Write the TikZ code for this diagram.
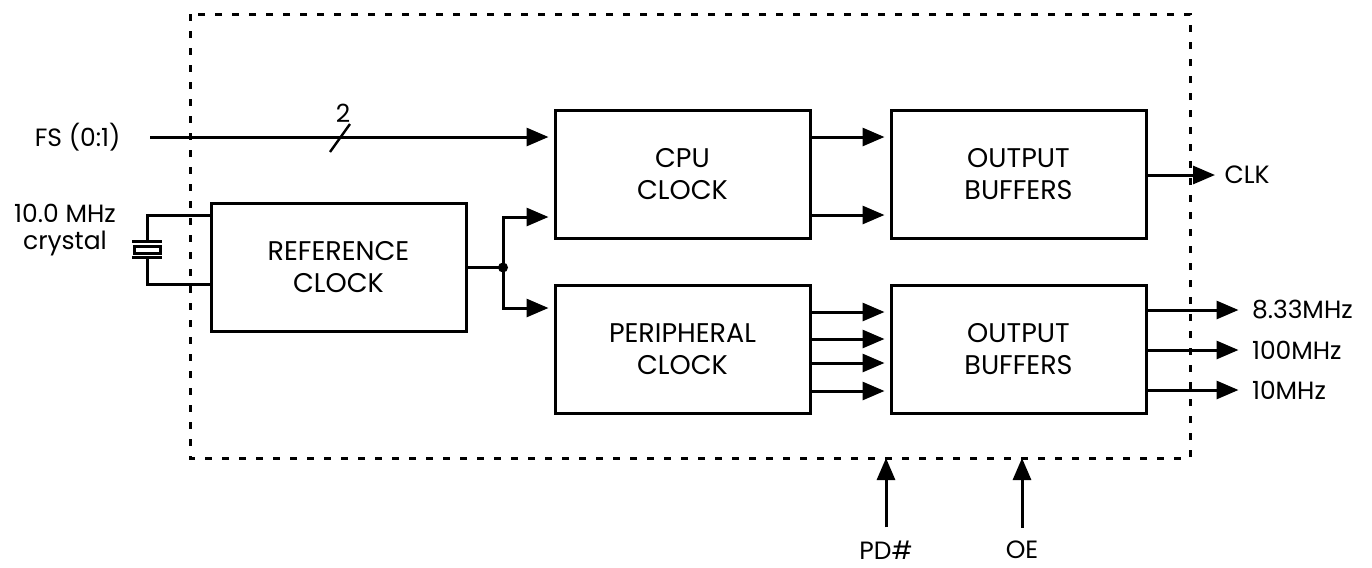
\documentclass[tikz,border=0pt]{standalone}
\usepackage{fontspec}
\setmainfont{Poppins}
\usetikzlibrary{arrows.meta,positioning,calc}

\begin{document}
\begin{tikzpicture}[x=0.5pt,y=-0.5pt,line width=1.5pt,
    blk/.style={rectangle, draw, minimum width=127.5pt, minimum height=64pt,
      align=center, font=\fontsize{13.5}{16}\selectfont},
    sig/.style={-{Triangle[length=11pt,width=9pt]}, shorten >=2.5pt},
    lbl/.style={inner sep=0pt, font=\fontsize{12.5}{15}\selectfont},
    frame/.style={dash pattern=on 3.5pt off 5pt}]
  \useasboundingbox (0,0) rectangle (1372,568);

  % chip outline
  \draw[frame] (190,14) rectangle (1190,458);
  \coordinate (fb) at (190,458);

  % blocks
  \node [blk] (cpu) at (682.5,174) {CPU\\CLOCK};
  \node [blk] (obt) at (1018.5,174) {OUTPUT\\BUFFERS};
  \node [blk] (ref) at (338.5,267.5) {REFERENCE\\CLOCK};
  \node [blk] (per) at (682.5,349) {PERIPHERAL\\CLOCK};
  \node [blk] (obb) at (1018.5,349) {OUTPUT\\BUFFERS};

  % FS input
  \node [lbl, anchor=east] (fs) at (122,137) {FS (0:1)};
  \draw [sig] ($(fs.east)+(28,0)$) -- (fs.east -| cpu.west);
  \draw [line width=1.2pt] (330,152) -- (350,124);
  \node [lbl] (bus) at (343,113) {2};

  % crystal
  \node [lbl] (xtl) at (65,213) {10.0 MHz};
  \node [lbl] (xtc) at (65,243) {crystal};
  \coordinate (xtp) at (147,241);
  \coordinate (xbp) at (147,257);
  \draw (xtp) |- ($(ref.north west)+(0,13)$);
  \draw (xbp) |- ($(ref.south west)+(0,-49)$);
  \draw ($(xtp)+(-15,0)$) -- ($(xtp)+(15,0)$);
  \draw ($(xbp)+(-15,0)$) -- ($(xbp)+(15,0)$);
  \draw ($(xtp)+(-13,5)$) rectangle ($(xbp)+(13,-4)$);

  % reference clock fan-out
  \coordinate (jn) at (ref.east -| 503,0);
  \draw (ref.east) -- (jn);
  \fill (jn) circle (5);
  \draw [sig] (jn) |- ($(cpu.west)+(0,43)$);
  \draw [sig] (jn) |- ($(per.west)+(0,-41)$);

  % clocks to buffers
  \foreach \dy in {-37,41}
    \draw [sig] ($(cpu.east)+(0,\dy)$) -- ($(obt.west)+(0,\dy)$);
  \foreach \dy in {-37,-10,14,42}
    \draw [sig] ($(per.east)+(0,\dy)$) -- ($(obb.west)+(0,\dy)$);

  % outputs
  \node [lbl, anchor=west] (clk) at (1223,175) {CLK};
  \draw [sig, shorten >=4pt] (obt.east |- clk.west) -- (clk.west);
  \foreach \dy/\txt/\nm in {-39/8.33MHz/oa, 1/100MHz/ob, 41/10MHz/oc} {
    \node [lbl, anchor=west] (\nm) at ($(obb.east)+(103,\dy)$) {\txt};
    \draw [sig, shorten >=6pt] (obb.east |- \nm.west) -- (\nm.west);
  }

  % control inputs
  \node [lbl] (pd) at (886,550) {PD\#};
  \node [lbl] (oe) at (1022,550) {OE};
  \draw [sig, shorten >=0pt] ($(pd.north)+(0,-12)$) -- (pd.north |- fb);
  \draw [sig, shorten >=0pt] ($(oe.north)+(0,-12)$) -- (oe.north |- fb);
\end{tikzpicture}
\end{document}
